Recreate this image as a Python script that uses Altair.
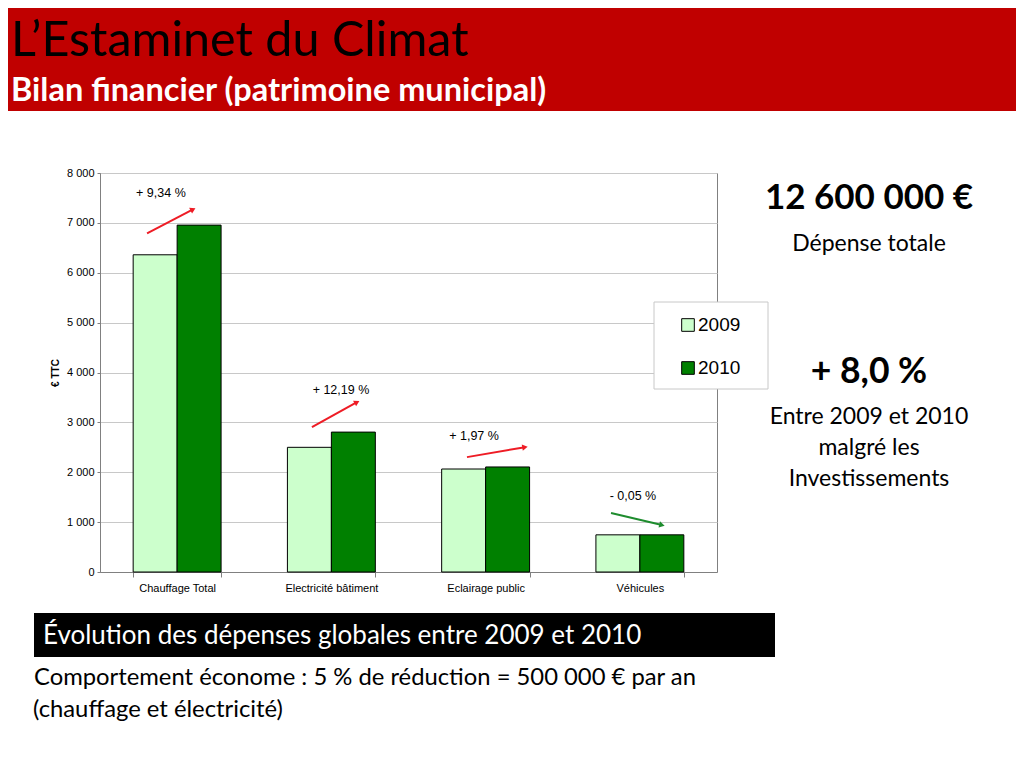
import math
import altair as alt
import pandas as pd

# ---------------- data ----------------
categories = ["Chauffage Total", "Electricité bâtiment", "Eclairage public", "Véhicules"]
years = ["2009", "2010"]
values_2009 = [6360, 2500, 2065, 745]
values_2010 = [6955, 2805, 2106, 745]
year_colors = ["#CCFFCC", "#008000"]
y_ticks = [0, 1000, 2000, 3000, 4000, 5000, 6000, 7000, 8000]

change_labels = ["+ 9,34 %", "+ 12,19 %", "+ 1,97 %", "- 0,05 %"]
label_x = [0.395, 1.562, 2.425, 3.455]          # category units (0..4)
label_y = [7609, 3644, 2723, 1522]
arrow_x_start = [0.305, 1.374, 2.379, 3.313]
arrow_x_end = [0.603, 1.666, 2.755, 3.643]
arrow_y_start = [6790, 2903, 2303, 1181]
arrow_y_end = [7270, 3404, 2503, 941]
arrow_colors = ["#EE1C25", "#EE1C25", "#EE1C25", "#1E8C2E"]

total_amount = "12 600 000 €"
total_caption = "Dépense totale"
total_change = "+ 8,0 %"
change_caption = ["Entre 2009 et 2010", "malgré les", "Investissements"]

slide_title = "L\u2019Estaminet du Climat"
slide_subtitle = "Bilan financier (patrimoine municipal)"
box_text = "Évolution des dépenses globales entre 2009 et 2010"
note_lines = [" Comportement économe : 5 % de réduction = 500 000 € par an",
              "(chauffage et électricité)"]

# ---------------- layout ----------------
PLOT_W, PLOT_H = 617, 399
OX, OY = 100, 173          # page position of plot origin
Y_MAX = 8000
FONT = "Lato"
AXFONT = "Liberation Sans"


def px(x):
    return x - OX


def py(y):
    return y - OY


bar_df = pd.DataFrame({
    "cat": categories * 2,
    "year": [years[0]] * 4 + [years[1]] * 4,
    "value": values_2009 + values_2010,
})

x_unit = PLOT_W / 4
y_unit = PLOT_H / Y_MAX
angles = []
for xs, xe, ys, ye in zip(arrow_x_start, arrow_x_end, arrow_y_start, arrow_y_end):
    dx = (xe - xs) * x_unit
    dy = -(ye - ys) * y_unit
    angles.append(math.degrees(math.atan2(dx, -dy)) % 360)

ann_df = pd.DataFrame({
    "label": change_labels, "lx": label_x, "ly": label_y,
    "xs": arrow_x_start, "xe": arrow_x_end, "ys": arrow_y_start, "ye": arrow_y_end,
    "col": arrow_colors, "ang": angles,
})

yscale = alt.Scale(domain=[0, Y_MAX], nice=False)
xq = alt.Scale(domain=[0, 4], nice=False, zero=False)

bars = alt.Chart(bar_df).mark_bar(stroke="black", strokeWidth=1).encode(
    x=alt.X("cat:N", sort=categories,
            scale=alt.Scale(paddingInner=0.43, paddingOuter=0.215),
            axis=alt.Axis(title=None, tickBand="extent", labelAngle=0, labelFont=AXFONT,
                          labelFontSize=11, labelColor="#000000", labelPadding=5,
                          domainColor="#808080", tickColor="#808080", tickSize=5, grid=False)),
    xOffset=alt.XOffset("year:N", sort=years),
    y=alt.Y("value:Q", scale=yscale,
            axis=alt.Axis(values=y_ticks, title="€ TTC", titleFont=AXFONT, titleFontSize=10,
                          titleFontWeight="bold", titleColor="#000000", titlePadding=6,
                          labelFont=AXFONT, labelFontSize=11, labelColor="#000000",
                          labelPadding=3, tickSize=3, tickColor="#808080",
                          domainColor="#808080", gridColor="#C8C8C8", grid=True,
                          labelExpr="datum.value >= 1000 ? floor(datum.value/1000) + ' 000' : '0'")),
    color=alt.Color("year:N", scale=alt.Scale(domain=years, range=year_colors), legend=None),
)

arrows = alt.Chart(ann_df).mark_rule(strokeWidth=2).encode(
    x=alt.X("xs:Q", scale=xq, axis=None), x2="xe",
    y=alt.Y("ys:Q", scale=yscale, axis=None), y2="ye",
    color=alt.Color("col:N", scale=None),
)
heads = alt.Chart(ann_df).mark_point(shape="triangle-up", filled=True, size=40, opacity=1).encode(
    x=alt.X("xe:Q", scale=xq, axis=None),
    y=alt.Y("ye:Q", scale=yscale, axis=None),
    angle=alt.Angle("ang:Q", scale=None),
    color=alt.Color("col:N", scale=None),
)
labels = alt.Chart(ann_df).mark_text(font=AXFONT, fontSize=12.5, color="#000000").encode(
    x=alt.X("lx:Q", scale=xq, axis=None),
    y=alt.Y("ly:Q", scale=yscale, axis=None),
    text="label:N",
)

one = alt.Data(values=[{"a": 1}])

# header
header = alt.Chart(one).mark_rect(color="#C00000").encode(
    x=alt.value(px(0)), x2=alt.value(px(1016)), y=alt.value(py(0)), y2=alt.value(py(111)))
title_t = alt.Chart(one).mark_text(font=FONT, fontSize=48.5, align="left", baseline="middle",
                                   color="#000000", text=slide_title).encode(
    x=alt.value(px(11)), y=alt.value(py(41)))
sub_t = alt.Chart(one).mark_text(font=FONT, fontSize=32.5, fontWeight="bold", align="left",
                                 baseline="middle", color="#FFFFFF", text=slide_subtitle).encode(
    x=alt.value(px(11)), y=alt.value(py(91)))

# right texts
big1 = alt.Chart(one).mark_text(font=FONT, fontSize=35, fontWeight="bold", align="center",
                                baseline="middle", color="#000000", text=total_amount).encode(
    x=alt.value(px(869)), y=alt.value(py(198)))
cap1 = alt.Chart(one).mark_text(font=FONT, fontSize=23, align="center", baseline="middle",
                                color="#000000", text=total_caption).encode(
    x=alt.value(px(869)), y=alt.value(py(244)))
big2 = alt.Chart(one).mark_text(font=FONT, fontSize=35.5, fontWeight="bold", align="center",
                                baseline="middle", color="#000000", text=total_change).encode(
    x=alt.value(px(869)), y=alt.value(py(372)))
cap2_df = pd.DataFrame({"t": change_caption, "yy": [py(417), py(448), py(479)]})
cap2 = alt.Chart(cap2_df).mark_text(font=FONT, fontSize=23, align="center", baseline="middle",
                                    color="#000000").encode(
    x=alt.value(px(869)), y=alt.Y("yy:Q", scale=None), text="t:N")

# legend (manual box)
leg_box = alt.Chart(one).mark_rect(fill="#FFFFFF", stroke="#C8C8C8", strokeWidth=1).encode(
    x=alt.value(px(654)), x2=alt.value(px(768)), y=alt.value(py(302)), y2=alt.value(py(389)))
leg_df = pd.DataFrame({"year": years, "col": year_colors, "yy": [py(325), py(368)]})
leg_sym = alt.Chart(leg_df).mark_square(size=160, stroke="#000000", strokeWidth=1, opacity=1).encode(
    x=alt.value(px(688)), y=alt.Y("yy:Q", scale=None), fill=alt.Color("col:N", scale=None))
leg_txt = alt.Chart(leg_df).mark_text(font=AXFONT, fontSize=19, align="left", baseline="middle",
                                      color="#000000").encode(
    x=alt.value(px(698)), y=alt.Y("yy:Q", scale=None), text="year:N")

# bottom black box + notes
box = alt.Chart(one).mark_rect(color="#000000").encode(
    x=alt.value(px(34)), x2=alt.value(px(775)), y=alt.value(py(613)), y2=alt.value(py(657)))
box_t = alt.Chart(one).mark_text(font=FONT, fontSize=26, align="left", baseline="middle",
                                 color="#FFFFFF", text=box_text).encode(
    x=alt.value(px(43)), y=alt.value(py(636)))
note_df = pd.DataFrame({"t": note_lines, "xx": [px(34), px(33)], "yy": [py(678), py(710)]})
notes = alt.Chart(note_df).mark_text(font=FONT, fontSize=23.8, align="left", baseline="middle",
                                     color="#000000").encode(
    x=alt.X("xx:Q", scale=None), y=alt.Y("yy:Q", scale=None), text="t:N")

chart = alt.layer(
    header, title_t, sub_t,
    bars, arrows, heads, labels,
    big1, cap1, big2, cap2,
    leg_box, leg_sym, leg_txt,
    box, box_t, notes,
).resolve_scale(
    x="independent", y="independent", color="independent", fill="independent"
).properties(
    width=PLOT_W, height=PLOT_H,
    autosize=alt.AutoSizeParams(type="none"),
    padding={"left": OX - 8, "top": OY - 8, "right": 1008 - (OX - 8) - PLOT_W,
             "bottom": 752 - (OY - 8) - PLOT_H},
).configure_view(stroke="#808080", strokeWidth=1)

chart.save("out.html", embed_options={"renderer": "svg", "actions": False})
